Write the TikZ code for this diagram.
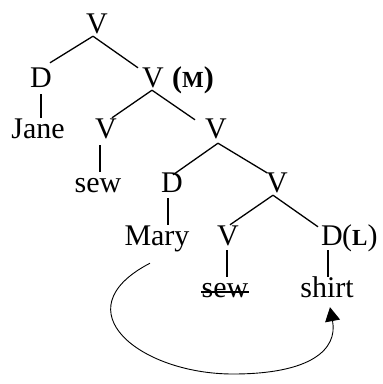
\documentclass[tikz,border=0pt]{standalone}
\usepackage{fontspec}
\setmainfont{Liberation Serif}
\usetikzlibrary{arrows.meta}
\begin{document}
\begin{tikzpicture}[x=1pt,y=-1pt,
  lab/.style={inner sep=0pt,anchor=base,text height=20pt,text depth=0pt,font=\fontsize{30}{36}\selectfont},
  ann/.style={inner sep=0pt,anchor=base west,font=\fontsize{30}{36}\selectfont},
  edge/.style={line width=1.3pt},
  mv/.style={line width=0.9pt,-{Triangle[length=14pt,width=15pt]}}]
\useasboundingbox (0,0) rectangle (383,384);
\node[lab] (root) at (97,33) {V};
\node[lab] (d1) at (41,87) {D};
\node[lab] (vm) at (153,87) {V};
\node[ann] (mlab) at (172,87) {\textbf{(}{\fontsize{23}{23}\selectfont\bfseries M}\textbf{)}};
\node[lab] (jane) at (38,138) {Jane};
\node[lab] (v2) at (106,138) {V};
\node[lab] (v3) at (216,138) {V};
\node[lab] (sew1) at (98,192) {sew};
\node[lab] (d2) at (172,192) {D};
\node[lab] (v4) at (277,192) {V};
\node[lab] (mary) at (157,245) {Mary};
\node[lab] (v5) at (228,245) {V};
\node[lab] (dl) at (332,245) {D};
\node[ann] (llab) at (342,245) {({\fontsize{23}{23}\selectfont\bfseries L})};
\node[lab] (sew2) at (225,297) {sew};
\node[lab] (shirt) at (327,297) {shirt};
% edges
\draw[edge] ([xshift=-4pt,yshift=-3pt]root.south) -- ([xshift=9pt,yshift=4pt]d1.north);
\draw[edge] ([xshift=-4pt,yshift=-3pt]root.south) -- ([xshift=-15pt,yshift=-1pt]vm.north);
\draw[edge] ([yshift=-7pt]d1.south) -- (d1.south |- jane.north);
\draw[edge] ([xshift=-1pt,yshift=-3pt]vm.south) -- ([xshift=6pt]v2.north);
\draw[edge] ([xshift=-1pt,yshift=-3pt]vm.south) -- ([xshift=-21pt,yshift=-2pt]v3.north);
\draw[edge] ([xshift=-6pt,yshift=-7pt]v2.south) -- ([xshift=-6pt]v2.south |- sew1.north);
\draw[edge] ([xshift=2pt,yshift=-5pt]v3.south) -- ([xshift=1pt,yshift=-3pt]d2.north);
\draw[edge] ([xshift=2pt,yshift=-5pt]v3.south) -- ([xshift=-10pt,yshift=-1pt]v4.north);
\draw[edge] ([xshift=-4pt,yshift=-6pt]d2.south) -- ([xshift=-4pt]d2.south |- mary.north);
\draw[edge] ([xshift=-4pt,yshift=-3pt]v4.south) -- ([xshift=2pt]v5.north);
\draw[edge] ([xshift=-4pt,yshift=-3pt]v4.south) -- ([xshift=-14pt,yshift=-2pt]dl.north);
\draw[edge] ([xshift=-1pt,yshift=-5pt]v5.south) -- ([xshift=-1pt]v5.south |- sew2.north);
\draw[edge] ([xshift=-4pt,yshift=-5pt]dl.south) -- ([xshift=-4pt]dl.south |- shirt.north);
% strike-through
\draw[line width=1.4pt] ([yshift=5pt]sew2.base west) -- ([yshift=5pt]sew2.base east);
% movement arrow
\coordinate (mstart) at ([xshift=-7pt,yshift=-18pt]mary.south);
\coordinate (mend) at ([xshift=3pt,yshift=-10pt]shirt.south);
\coordinate (mbot) at (233,374);
\draw[mv] (mstart) .. controls (60,310) and (140,374) .. (mbot)
  .. controls (310,374) and (338,350) .. (mend);
\end{tikzpicture}
\end{document}
